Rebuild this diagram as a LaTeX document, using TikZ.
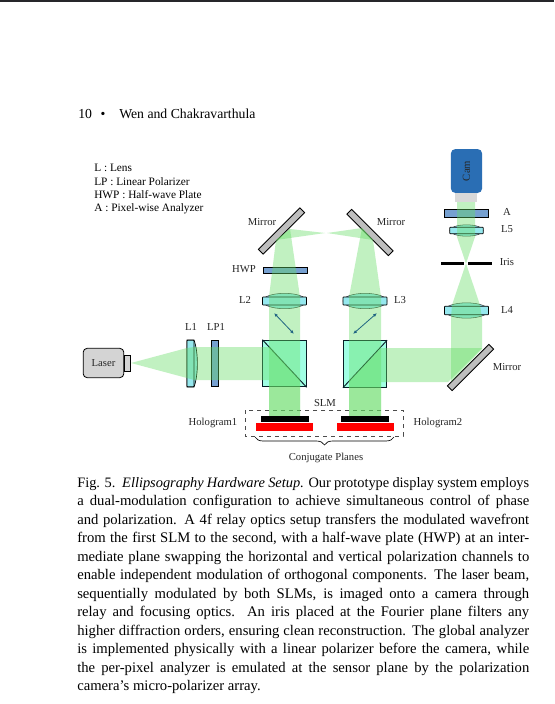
\documentclass[tikz,border=0pt]{standalone}
\usepackage{xcolor}
\usepackage{fontspec}
\setmainfont{Liberation Serif}
\usetikzlibrary{arrows.meta,positioning,shapes.geometric,decorations.pathreplacing}
\definecolor{optbeam}{RGB}{100,220,100}
\definecolor{optlens}{RGB}{150,232,238}
\definecolor{optcube}{RGB}{160,255,228}
\definecolor{optplate}{RGB}{118,160,208}
\definecolor{optmirror}{RGB}{190,190,190}
\definecolor{optcam}{RGB}{42,110,180}
\definecolor{optpol}{RGB}{31,100,130}
\definecolor{optbar}{RGB}{38,38,42}
\newcommand{\capline}[1]{\hbox to 339pt{#1}}
\tikzset{
  beampath/.style={fill=optbeam, fill opacity=0.4, draw=none},
  lensbox/.style={
    rectangle,
    draw=black,
    fill=optlens,
    line width=0.6pt,
    inner sep=0pt,
    rounded corners=0.5pt
  },
  lensbulge/.style={
    ellipse,
    draw=black!75,
    fill=optlens,
    line width=0.4pt,
    inner sep=0pt
  },
  plate/.style={
    rectangle,
    draw=black,
    fill=optplate,
    line width=0.6pt,
    inner sep=0pt
  },
  cube/.style={
    rectangle,
    draw=black!70!optpol,
    fill=optcube,
    line width=0.7pt,
    minimum width=32.5pt,
    minimum height=35pt,
    inner sep=0pt
  },
  mirror/.style={
    rectangle,
    draw=black,
    fill=optmirror,
    line width=0.6pt,
    minimum width=44pt,
    minimum height=5pt,
    inner sep=0pt
  },
  slmbar/.style={rectangle, fill=black, minimum width=36pt, minimum height=4.5pt, inner sep=0pt},
  slmred/.style={rectangle, fill=red, minimum width=43pt, minimum height=6pt, inner sep=0pt},
  optlabel/.style={font=\fontsize{8}{9.6}\selectfont, inner sep=0pt, text=black!85},
  polarrow/.style={{Latex[length=3pt,width=2.4pt]}-{Latex[length=3pt,width=2.4pt]}, line width=0.6pt, draw=optpol}
}
\begin{document}
\begin{tikzpicture}[x=0.75pt,y=-0.75pt]
\useasboundingbox (0,0) rectangle (554,704);
\fill[white] (0,0) rectangle (554,704);
\fill[optbar] (0,0) rectangle (554,2);

\node[anchor=base west, inner sep=0pt, font=\fontsize{10.3}{12}\selectfont] (pagenum) at (78,118) {10};
\node[anchor=base, inner sep=0pt, font=\fontsize{10.3}{12}\selectfont] (pagedot) at (103,118) {•};
\node[anchor=base west, inner sep=0pt, font=\fontsize{10.3}{12}\selectfont] (authors) at (119,118) {Wen and Chakravarthula};

\node[anchor=north west, inner sep=0pt, align=left, font=\fontsize{8.5}{10}\selectfont] (legend) at (94,164) {L : Lens\\LP : Linear Polarizer\\HWP : Half-wave Plate\\A : Pixel-wise Analyzer};

% optics under the beams
\node[lensbulge, minimum width=33pt, minimum height=11.5pt] (bulgetwo) at (284.5,301) {};
\node[lensbox, minimum width=33pt, minimum height=6pt] (lenstwo) at (284.5,301) {};
\node[lensbulge, minimum width=33pt, minimum height=11.5pt] (bulgethree) at (365,301) {};
\node[lensbox, minimum width=33pt, minimum height=6pt] (lensthree) at (365,301) {};
\node[lensbulge, minimum width=33pt, minimum height=11.5pt] (bulgefour) at (466.5,310.5) {};
\node[lensbox, minimum width=33pt, minimum height=6.5pt] (lensfour) at (466.5,310.5) {};
\node[lensbulge, minimum width=25pt, minimum height=8.5pt] (bulgefive) at (466.5,230.5) {};
\node[lensbox, minimum width=25pt, minimum height=5pt] (lensfive) at (466.5,230.5) {};
\draw[line width=0.5pt, fill=optlens] (187,340) -- (194,340) .. controls (198.5,352) and (198.5,375) .. (194,387) -- (187,387) -- cycle;
\node[lensbox, minimum width=5.2pt, minimum height=35pt] (lensone) at (190.5,363.5) {};
\node[plate, minimum width=5.6pt, minimum height=35pt] (lpone) at (215,363.5) {};
\node[plate, minimum width=33pt, minimum height=4.5pt] (hwp) at (285,270) {};
\node[plate, minimum width=32.5pt, minimum height=5.5pt] (analyzer) at (466.5,213.5) {};
\node[cube] (cubeone) at (284.5,363.5) {};
\node[cube] (cubetwo) at (365,364) {};
\node[mirror, rotate=45] (mirrorone) at (281.5,231) {};
\node[mirror, rotate=-45] (mirrortwo) at (370,232.5) {};
\node[mirror, rotate=45] (mirrorthree) at (470.5,367.5) {};
\draw[line width=0.7pt, draw=black!70!optpol] (cubeone.north west) -- (cubeone.south east);
\draw[line width=0.7pt, draw=black!70!optpol] (cubetwo.south west) -- (cubetwo.north east);

\draw[dashed, line width=0.7pt, draw=black!70] (245,410) rectangle (403,436);

% beams
\path[beampath] (131,363) -- (187,348) -- (194,347) -- (270,347) -- (300,380) -- (300,416) -- (269,416) -- (269,380) -- (194,380) -- (187,378) -- cycle;
\path[beampath] (276,240) -- (290,229) -- (300,297) -- (300,416) -- (269,416) -- (269,297) -- cycle;
\path[beampath] (290,229) -- (325,233) -- (276,240) -- cycle;
\path[beampath] (327,233) -- (362,228) -- (373,240) -- cycle;
\path[beampath] (362,228) -- (373,240) -- (381,297) -- (381,416) -- (349,416) -- (349,297) -- cycle;
\path[beampath] (349,416) -- (349,381) -- (381,348) -- (482,348) -- (448,382) -- (381,382) -- (381,416) -- cycle;
\path[beampath] (466,263.5) -- (480,305) -- (482,318) -- (482,349) -- (451,382) -- (451,318) -- (452,305) -- cycle;
\path[beampath] (457,202) -- (475,202) -- (475,237) -- (466,263.5) -- (457,237) -- cycle;

% camera, laser, iris
\node[rectangle, rounded corners=3.5pt, fill=optcam, minimum width=23.5pt, minimum height=33pt, inner sep=0pt] (cam) at (466.5,171) {};
\node[optlabel, rotate=90] (camlabel) at (cam.center) {Cam};
\node[rectangle, fill=black!15, minimum width=16.5pt, minimum height=6.5pt, inner sep=0pt] (camneck) at (466,197.5) {};
\node[rectangle, rounded corners=3pt, draw=black, fill=black!17, line width=0.6pt, minimum width=30.5pt, minimum height=22pt, inner sep=0pt] (laser) at (103.5,363) {};
\node[rectangle, draw=black, fill=black!17, line width=0.5pt, minimum width=4.5pt, minimum height=12pt, inner sep=0pt] (laserport) at (127,363) {};
\node[optlabel] (laserlabel) at (laser.center) {Laser};
\coordinate (irisa) at (441,263.5);
\coordinate (irisb) at (464,263.5);
\coordinate (irisc) at (468,263.5);
\coordinate (irisd) at (492,263.5);
\draw[line width=2.2pt] (irisa) -- (irisb);
\draw[line width=2.2pt] (irisc) -- (irisd);

% polarization arrows
\coordinate (polonea) at (274,313);
\coordinate (poloneb) at (294,334);
\coordinate (poltwoa) at (377,313);
\coordinate (poltwob) at (353,334);
\draw[polarrow] (polonea) -- (poloneb);
\draw[polarrow] (poltwoa) -- (poltwob);

% SLM
\node[slmbar] (barone) at (284.5,419) {};
\node[slmred] (redone) at (284.5,427) {};
\node[slmbar] (bartwo) at (365,419) {};
\node[slmred] (redtwo) at (365.5,427) {};
\coordinate (bracea) at (255,437);
\coordinate (braceb) at (394,437);
\draw[decorate, decoration={brace, mirror, amplitude=6pt}, line width=0.5pt] (bracea) -- (braceb);

\node[optlabel] (labelone) at (191,327) {L1};
\node[optlabel] (labellp) at (216,327) {LP1};
\node[optlabel] (labeltwo) at (245,300) {L2};
\node[optlabel] (labelhwp) at (244,269) {HWP};
\node[optlabel] (labelmirrorone) at (262,222) {Mirror};
\node[optlabel] (labelmirrortwo) at (391,222) {Mirror};
\node[optlabel] (labelthree) at (400,300) {L3};
\node[optlabel] (labela) at (507,212) {A};
\node[optlabel] (labelfive) at (507,229) {L5};
\node[optlabel] (labeliris) at (507,262) {Iris};
\node[optlabel] (labelfour) at (507,310) {L4};
\node[optlabel] (labelmirrorthree) at (507,367) {Mirror};
\node[optlabel] (labelslm) at (325,403) {SLM};
\node[optlabel] (labelholone) at (213,423) {Hologram1};
\node[optlabel] (labelholtwo) at (438,423) {Hologram2};
\node[optlabel] (labelplanes) at (326,458) {Conjugate Planes};

\node[anchor=north west, inner sep=0pt, align=left, font=\fontsize{11}{13.875}\selectfont] (caption) at (77,477) {%
\capline{\fontsize{10.8}{13.875}\selectfont Fig. 5.\hspace{5pt}\textit{Ellipsography Hardware Setup.} Our prototype display system employs}\\
\capline{a dual-modulation configuration to achieve simultaneous control of phase}\\
\capline{and polarization. A 4f relay optics setup transfers the modulated wavefront}\\
\capline{from the first SLM to the second, with a half-wave plate (HWP) at an inter-}\\
\capline{mediate plane swapping the horizontal and vertical polarization channels to}\\
\capline{enable independent modulation of orthogonal components. The laser beam,}\\
\capline{sequentially modulated by both SLMs, is imaged onto a camera through}\\
\capline{relay and focusing optics. An iris placed at the Fourier plane filters any}\\
\capline{higher diffraction orders, ensuring clean reconstruction. The global analyzer}\\
\capline{is implemented physically with a linear polarizer before the camera, while}\\
\capline{the per-pixel analyzer is emulated at the sensor plane by the polarization}\\
camera's micro-polarizer array.};
\end{tikzpicture}
\end{document}
